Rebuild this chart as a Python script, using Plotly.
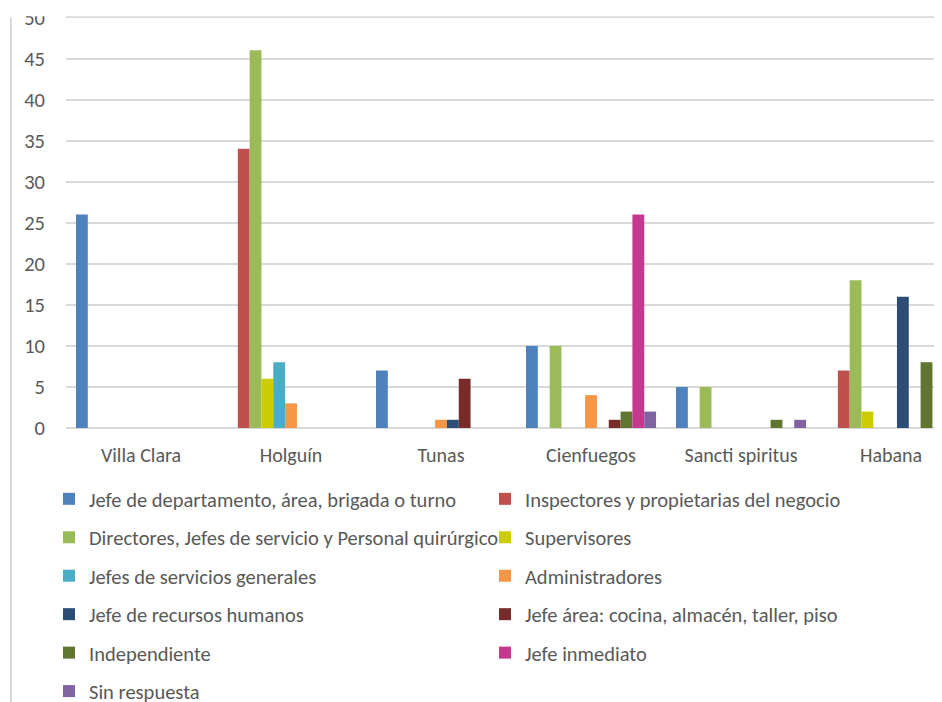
import plotly.graph_objects as go

categories = ["Villa Clara", "Holguín", "Tunas", "Cienfuegos", "Sancti spiritus", "Habana"]

jefe_departamento = [26, 0, 7, 10, 5, 0]
inspectores = [0, 34, 0, 0, 0, 7]
directores = [0, 46, 0, 10, 5, 18]
supervisores = [0, 6, 0, 0, 0, 2]
jefes_servicios_generales = [0, 8, 0, 0, 0, 0]
administradores = [0, 3, 1, 4, 0, 0]
jefe_rrhh = [0, 0, 1, 0, 0, 16]
jefe_area = [0, 0, 6, 1, 0, 0]
independiente = [0, 0, 0, 2, 1, 8]
jefe_inmediato = [0, 0, 0, 26, 0, 0]
sin_respuesta = [0, 0, 0, 2, 1, 0]

series_names = [
    "Jefe de departamento, área, brigada o turno",
    "Inspectores y propietarias del negocio",
    "Directores, Jefes de servicio y Personal quirúrgico",
    "Supervisores",
    "Jefes de servicios generales",
    "Administradores",
    "Jefe de recursos humanos",
    "Jefe área: cocina, almacén, taller, piso",
    "Independiente",
    "Jefe inmediato",
    "Sin respuesta",
]
series_values = [
    jefe_departamento, inspectores, directores, supervisores,
    jefes_servicios_generales, administradores, jefe_rrhh, jefe_area,
    independiente, jefe_inmediato, sin_respuesta,
]
colors = ["#4F81BD", "#C0504D", "#9BBB59", "#CCCC00", "#4BACC6", "#F79646",
          "#2C4D75", "#772C2A", "#5F7530", "#C4398D", "#8064A2"]

y_ticks = [0, 5, 10, 15, 20, 25, 30, 35, 40, 45, 50]

FONT = "Carlito, Lato, sans-serif"
W, H = 942, 702
YMAX = 50.3
# page body has an 8px margin; figure coords = screen coords - 8
L, R, T, B = 58, 0, 6.5, 282
plot_w = W - L - R
plot_h = H - T - B

fig = go.Figure()
for i, (name, vals, col) in enumerate(zip(series_names, series_values, colors)):
    fig.add_trace(go.Bar(
        x=categories, y=vals, name=name,
        marker=dict(color=col, line=dict(width=0)),
        legend="legend" if i % 2 == 0 else "legend2",
        legendgroup=f"g{i}",
    ))

legend_common = dict(
    orientation="v", xref="container", yref="container",
    xanchor="left", yanchor="top",
    font=dict(family=FONT, size=20.5, color="#595959"),
    bgcolor="rgba(0,0,0,0)", borderwidth=0,
    tracegroupgap=8.8, traceorder="grouped",
)

fig.update_layout(
    width=W, height=H,
    margin=dict(l=L, r=R, t=T, b=B, autoexpand=False),
    paper_bgcolor="white", plot_bgcolor="white",
    barmode="group", bargap=0.133, bargroupgap=0,
    font=dict(family=FONT, size=20.5, color="#595959"),
    showlegend=True,
    legend=dict(x=41 / W, y=1 - 471 / H, **legend_common),
    legend2=dict(x=477 / W, y=1 - 471 / H, **legend_common),
    xaxis=dict(
        range=[-0.5, 5.393], showgrid=False, showline=False, zeroline=False,
        ticks="", tickangle=0,
        tickfont=dict(family=FONT, size=20, color="#595959"),
        ticklabelstandoff=13,
    ),
    yaxis=dict(
        range=[0, YMAX], tickvals=y_ticks, showgrid=True,
        gridcolor="#D9D9D9", gridwidth=1.5,
        zeroline=True, zerolinecolor="#D9D9D9", zerolinewidth=1.5,
        showline=False, ticks="",
        tickfont=dict(family=FONT, size=20.5, color="#595959"),
        ticklabelstandoff=20, ticklabeloverflow="allow",
    ),
    shapes=[
        dict(type="rect", xref="paper", yref="paper",
             x0=-L / plot_w, x1=1, y0=50 / YMAX + 1.2 / plot_h, y1=1 + (T + 5) / plot_h,
             fillcolor="white", line=dict(width=0), layer="above"),
        dict(type="line", xref="paper", yref="paper",
             x0=(3 - L) / plot_w, x1=(3 - L) / plot_w,
             y0=-B / plot_h, y1=50 / YMAX,
             line=dict(color="#D9D9D9", width=2), layer="above"),
    ],
)

fig.write_html("out.html")
